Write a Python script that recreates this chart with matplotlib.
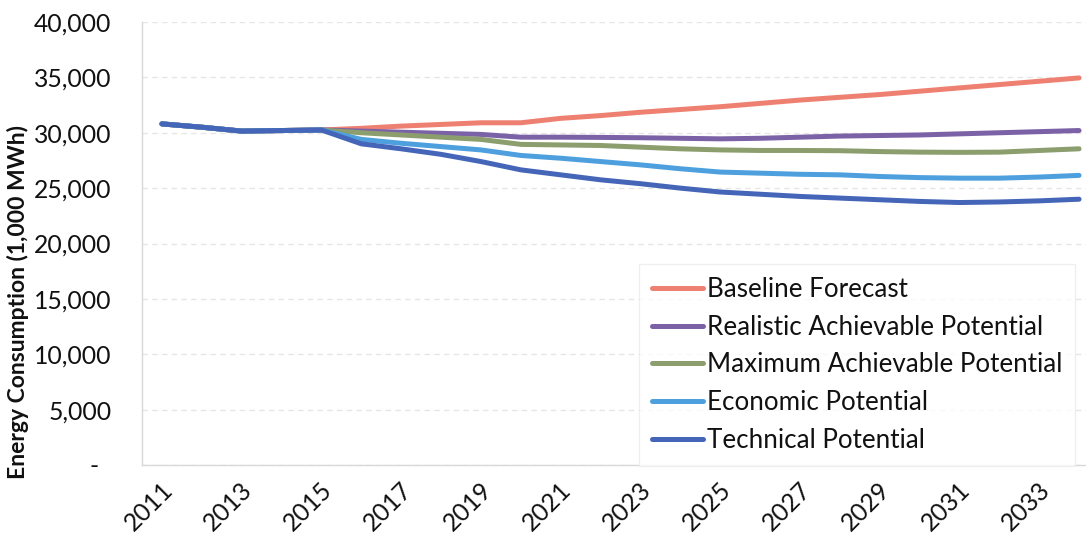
import matplotlib
matplotlib.use("Agg")
import matplotlib.pyplot as plt
import matplotlib.transforms as mtransforms

years = list(range(2011, 2035))

baseline = [30800, 30500, 30150, 30200, 30250, 30400, 30600, 30750, 30900, 30900,
            31300, 31550, 31850, 32100, 32350, 32650, 32950, 33200, 33450, 33750,
            34050, 34350, 34650, 34950]
realistic = [30800, 30500, 30150, 30200, 30250, 30150, 30050, 29950, 29850, 29600,
             29600, 29580, 29550, 29500, 29450, 29500, 29600, 29700, 29750, 29800,
             29900, 30000, 30100, 30200]
maximum = [30800, 30500, 30150, 30200, 30250, 30000, 29800, 29600, 29400, 28950,
           28900, 28850, 28700, 28550, 28450, 28400, 28400, 28380, 28300, 28250,
           28230, 28250, 28400, 28550]
economic = [30800, 30500, 30150, 30200, 30250, 29400, 29050, 28750, 28450, 27950,
            27700, 27400, 27100, 26750, 26450, 26350, 26250, 26200, 26050, 25950,
            25900, 25900, 26000, 26150]
technical = [30800, 30500, 30150, 30200, 30250, 29000, 28550, 28050, 27400, 26650,
             26200, 25750, 25400, 25000, 24650, 24450, 24250, 24100, 23950, 23800,
             23700, 23750, 23850, 24000]

series_names = ["Baseline Forecast", "Realistic Achievable Potential",
                "Maximum Achievable Potential", "Economic Potential", "Technical Potential"]
colors = ["#EE8072", "#7B61A6", "#8C9E6E", "#4DA0DD", "#4566B8"]

xtick_years = list(range(2011, 2034, 2))
ytick_vals = list(range(0, 40001, 5000))
ytick_labels = ["-  "] + [f"{v:,}" for v in ytick_vals[1:]]

plt.rcParams['font.family'] = ['Lato', 'DejaVu Sans']

W, H = 1086, 546
fig = plt.figure(figsize=(W / 100, H / 100), dpi=100)
left, right, top, bottom = 142, 1099, 22, 465
ax = fig.add_axes([left / W, 1 - bottom / H, (right - left) / W, (bottom - top) / H])

data = [baseline, realistic, maximum, economic, technical]
handles = []
for name, vals, c in zip(series_names, data, colors):
    ln, = ax.plot(years, vals, color=c, lw=3.6, label=name,
                  solid_capstyle='round', solid_joinstyle='round')
    handles.append(ln)

ax.set_xlim(2010.5, 2034.5)
ax.set_ylim(0, 40000)
ax.set_yticks(ytick_vals)
ax.set_yticklabels(ytick_labels)
ax.set_xticks(xtick_years)
ax.set_xticklabels([str(y) for y in xtick_years], rotation=45, ha='right')

ax.tick_params(axis='both', length=0, labelsize=17.8, colors='#111111')
ax.tick_params(axis='y', pad=22)
ax.tick_params(axis='x', pad=9)

# shift the rotated year labels a bit right (Excel style)
offset = mtransforms.ScaledTranslation(15 / 100, 0, fig.dpi_scale_trans)
for lbl in ax.get_xticklabels():
    lbl.set_transform(lbl.get_transform() + offset)

ax.grid(axis='y', color='#e6e6e6', lw=1, linestyle=(0, (4, 3)))
ax.set_axisbelow(True)
for s in ['top', 'right']:
    ax.spines[s].set_visible(False)
for s in ['left', 'bottom']:
    ax.spines[s].set_color('#d8d8d8')
    ax.spines[s].set_linewidth(1)

fig.text(18 / W, 1 - 302 / H, "Energy Consumption (1,000 MWh)", rotation=90,
         ha='center', va='center', fontsize=16.5, fontweight='bold', color='#111111')

leg = ax.legend(handles=handles, loc='upper left',
                bbox_to_anchor=(639 / W, 1 - 264 / H), bbox_transform=fig.transFigure,
                fontsize=18.7, handlelength=1.95, handletextpad=0.15, labelspacing=0.49,
                borderpad=0.5, frameon=True, fancybox=False, borderaxespad=0)
leg.get_frame().set_edgecolor('#ececec')
leg.get_frame().set_linewidth(1)
for t in leg.get_texts():
    t.set_color('#111111')

fig.savefig("out.png", dpi=100)
